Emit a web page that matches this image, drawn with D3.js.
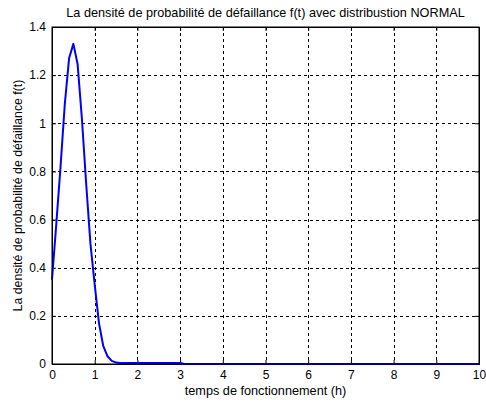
<!DOCTYPE html>
<html>
<head>
<meta charset="utf-8">
<script src="https://cdn.jsdelivr.net/npm/d3@7"></script>
<style>
  body { margin: 0; background: #fff; }
  svg text { font-family: "Liberation Sans", Arial, sans-serif; fill: #000; }
</style>
</head>
<body>
<div id="chart"></div>
<script>
// values
const tValues = [0, 0.1, 0.2, 0.3, 0.4, 0.5, 0.6, 0.7, 0.8, 0.9, 1.0, 1.1, 1.2, 1.3, 1.4, 1.5, 1.6, 2.0, 2.5, 3.0, 3.1, 5, 7, 10];
const fValues = [0.35, 0.58, 0.82, 1.08, 1.27, 1.33, 1.245, 1.02, 0.75, 0.5, 0.33, 0.17, 0.075, 0.032, 0.013, 0.006, 0.004, 0.004, 0.004, 0.004, 0, 0, 0, 0];
const xTicks = [0, 1, 2, 3, 4, 5, 6, 7, 8, 9, 10];
const yTicks = [0, 0.2, 0.4, 0.6, 0.8, 1, 1.2, 1.4];

const W = 486, H = 403;
const margin = { top: 27, right: 7, bottom: 39, left: 52 };
const width = W - margin.left - margin.right;
const height = H - margin.top - margin.bottom;

const svg = d3.select("#chart").append("svg")
    .attr("width", W)
    .attr("height", H);

const g = svg.append("g")
    .attr("transform", `translate(${margin.left},${margin.top})`);

const x = d3.scaleLinear().domain([0, 10]).range([0, width]);
const y = d3.scaleLinear().domain([0, 1.4]).range([height, 0]);

// grid (dashed, skipping the box edges)
g.append("g").selectAll("line")
    .data(xTicks.slice(1, -1))
    .join("line")
    .attr("x1", d => Math.round(x(d)) + 0.5).attr("x2", d => Math.round(x(d)) + 0.5)
    .attr("y1", 0).attr("y2", height)
    .attr("stroke", "#000").attr("stroke-width", 1)
    .attr("stroke-dasharray", "3,3");

g.append("g").selectAll("line")
    .data(yTicks.slice(1, -1))
    .join("line")
    .attr("y1", d => Math.round(y(d)) + 0.5).attr("y2", d => Math.round(y(d)) + 0.5)
    .attr("x1", 0).attr("x2", width)
    .attr("stroke", "#000").attr("stroke-width", 1)
    .attr("stroke-dasharray", "3,3");

// axes with inward ticks
g.append("g")
    .attr("transform", `translate(0,${height})`)
    .call(d3.axisBottom(x).tickValues(xTicks).tickSize(-4).tickPadding(6).tickFormat(d3.format("d")));
g.append("g")
    .call(d3.axisLeft(y).tickValues(yTicks).tickSize(-4).tickPadding(6).tickFormat(d => d === 0 ? "0" : d3.format("")(d)));
g.append("g")
    .call(d3.axisTop(x).tickValues(xTicks).tickSize(-4).tickFormat(""));
g.append("g")
    .attr("transform", `translate(${width},0)`)
    .call(d3.axisRight(y).tickValues(yTicks).tickSize(-4).tickFormat(""));

g.selectAll(".domain").attr("stroke", "#000");
g.selectAll(".tick line").attr("stroke", "#000");
g.selectAll(".tick text").style("font-size", "12px").attr("fill", "#000");

// curve
const line = d3.line()
    .x((d, i) => x(tValues[i]))
    .y(d => y(d));

g.append("path")
    .datum(fValues)
    .attr("fill", "none")
    .attr("stroke", "#0000ff")
    .attr("stroke-width", 2)
    .attr("stroke-linejoin", "round")
    .attr("d", line);

// box on top
g.append("rect")
    .attr("x", 0).attr("y", 0)
    .attr("width", width).attr("height", height)
    .attr("fill", "none").attr("stroke", "#000").attr("stroke-width", 1);

// labels
svg.append("text")
    .attr("x", margin.left + width / 2).attr("y", 17)
    .attr("text-anchor", "middle")
    .style("font-size", "12.7px")
    .text("La densité de probabilité de défaillance f(t) avec distribustion NORMAL");

svg.append("text")
    .attr("x", margin.left + width / 2).attr("y", 395)
    .attr("text-anchor", "middle")
    .style("font-size", "12.7px")
    .text("temps de fonctionnement (h)");

svg.append("text")
    .attr("transform", `translate(22,${margin.top + height / 2}) rotate(-90)`)
    .attr("text-anchor", "middle")
    .style("font-size", "12.3px")
    .text("La densité de probabilité de défaillance f(t)");
</script>
</body>
</html>
